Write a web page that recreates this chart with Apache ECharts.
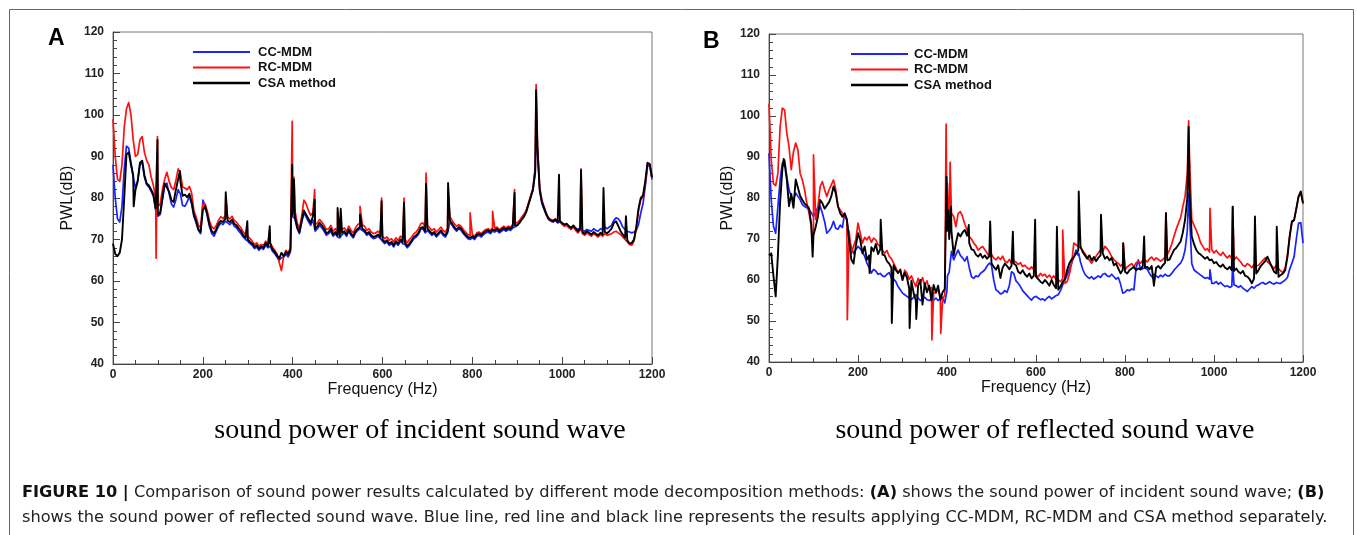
<!DOCTYPE html>
<html>
<head>
<meta charset="utf-8">
<script src="https://cdn.jsdelivr.net/npm/echarts@6/dist/echarts.min.js"></script>
<style>
html,body{margin:0;padding:0;background:#fff;}
#chart{width:1357px;height:535px;}
</style>
</head>
<body>
<div id="chart"></div>
<script>
// ---------------- DATA ----------------
const freqStepHz = 5;              // base arrays sampled every 5 Hz, 0..1200 Hz
const xTicks = [0, 200, 400, 600, 800, 1000, 1200];
const yTicks = [40, 50, 60, 70, 80, 90, 100, 110, 120];
const seriesNames = ['CC-MDM', 'RC-MDM', 'CSA method'];

// (A) incident sound wave
const incidentCC = [
88,80,75,74.2,78,87,92.5,92,88.6,85,82.4,84.2,88,88.6,85,83.2,82.6,81.6,80.4,77,
75.6,76,79.4,83,83.6,81,78.6,77.8,79.6,82,81,78.2,78,79,80.4,78.6,75.6,74,72.2,71.4,
79,78.2,75.6,73,71.4,70.8,72,73.2,74,73.6,74.4,74,73.6,74.2,73.2,72.8,72,71.4,70.6,70,
69.6,69,68.6,67.8,68.2,67.4,68,67.6,68.6,68,68.4,67.2,66.6,65.8,65,65.6,65.8,66.4,65.8,67,
75.5,75,72.6,71.4,74,76.4,75.4,74.4,73.4,74.8,72,72.6,73.4,72.8,72,71,71.4,72,70.8,71.4,
70.6,70.4,71.2,71.6,70.8,72,71,70.4,71.6,72.2,72.6,72.2,71.8,71,71.4,70.6,70.2,70.4,70.8,70.2,
69.6,69,69.4,68.6,69,68.2,69.2,68.6,69.6,69,68.8,68,68.6,69.4,70.2,70.6,71.2,72.4,72.6,71.6,
72.2,71.6,71,71.4,70.6,71.2,71.8,71,70.6,71.6,74.2,73.4,72.6,72,72.6,72.2,71.4,70.8,70.2,70,
70.4,70,70.8,71,70.6,71.2,71.6,71.8,71.4,72,71.8,72.2,71.6,72,72.4,72,72.4,72.2,72.8,73,
73.4,74.2,75.2,76,77,78.6,80.4,82,86,91,81.6,78.6,77.2,75.8,74.8,74.4,74.2,74.6,74,74.2,
73.8,73.4,73.6,73.2,72.8,73.2,72.8,72.4,72.8,72.2,72,72.4,72.2,72,72.6,72.2,72,72.6,72.4,73,
72.6,73,73.4,74.6,75.2,75,74.2,73,72.4,72,71.8,71.6,71.8,72.2,73.6,76.4,78.6,82.8,87.6,88,
84.4];
const incidentCCPeaks = [[200,79.5],[399,84],[942,99]];

const incidentRC = [
99,90,84.5,84,88,97,101.5,103,100,94,90,90.5,94,94.8,91,89,88,85,83,80,
78,78.5,82,84.5,86.2,84,82.5,82,84.2,87,86,82.6,82.4,82,82.8,81.2,77,75.5,73.5,72.8,
78.5,78.6,76.8,74.4,73,72.6,73.4,74.6,75.5,75,75.8,75.4,75,75.6,74.6,74.2,73.4,72.8,71.8,71.2,
70.8,70.2,69.6,68.8,69.2,68.4,68.8,68.6,69.6,68.8,69.2,68.2,67.4,66.6,64.5,62.5,66,67.4,66.8,68,
78,77,74,72.6,75.5,79.5,78.6,77,75.8,76.5,73.5,74,74.8,74.2,73.4,72.4,72.6,73.4,72,72.6,
71.8,71.6,72.4,72.8,72,73.2,72.2,71.6,72.8,73.6,74,73.6,73.2,72.2,72.6,71.8,71.4,71.6,72,71.4,
70.8,70.2,70.6,69.8,70.2,69.4,70.4,69.8,70.8,70.2,70,69.2,70,70.6,71.4,71.8,72.6,73.8,74,73,
73.4,72.8,72.2,72.6,71.8,72.4,73,72.2,71.8,72.8,75.5,74.6,73.8,73.2,73.6,73.2,72.4,71.8,71.2,71,
71.2,70.8,71.6,71.8,71.4,72,72.4,72.6,72.2,72.8,72.6,73,72.4,72.8,73.2,72.8,73.2,73,73.6,74,
74,74.6,75.4,76,77,78.8,80.6,82.4,87.5,93,82.5,79.4,77.8,76.2,75.2,74.8,74.6,75,74.4,74.6,
73.6,73.2,73.4,72.8,72.4,73,72.2,71.6,72.2,71.4,71,71.6,71.2,70.8,71.4,71,70.6,71.2,70.8,71.4,
71,71.2,71.4,71.8,72,71.6,71.2,70.6,70,69.4,68.8,68.6,69.6,72.6,77,79.6,80.2,83.6,88.2,88,
84.8];
const incidentRCPeaks = [[96,65.5],[99,94.8],[251,80],[299,73],[349,72],[399,98.5],[403,85],[449,82],[500,76.5],[550,78],[598,80],[648,80],[697,86],[746,82],[795,76.4],[845,76.8],[894,82],[942,107.3],[1042,87]];

const incidentCSA = [
69,66.5,66,66.8,70,80,90.5,91,88,85.5,82,84,88.5,89,85.5,83.5,83,82,80.8,77.5,
76,76.5,80,83.5,82.5,81.5,79.5,79,82,84.5,84,80.5,80.8,80.2,81,79,76,74.5,72.5,71.8,
77,78,76,73.5,72,71.5,72.5,73.8,74.5,74.2,75,74.6,74.2,74.8,73.8,73.4,72.6,72,71,70.4,
70,69.4,69,68.2,68.6,67.8,68.4,68,69.2,68.4,69,67.6,67,66.2,65.4,66.8,66,67,66.4,67.6,
76,75.5,73,71.8,74.5,77,76,75,74,75.5,72.5,73.2,74,73.4,72.6,71.5,71.8,72.6,71.2,71.8,
71,70.8,71.6,72,71.2,72.4,71.4,70.8,72,72.6,73,72.6,72.2,71.4,71.8,71,70.6,70.8,71.2,70.6,
70,69.4,69.8,69,69.4,68.6,69.6,69,70,69.4,69.2,68.4,69,69.8,70.6,71,71.6,72.8,73,72,
72.6,72,71.4,71.8,71,71.6,72.2,71.4,71,72,74.6,73.8,73,72.4,73,72.6,71.8,71.2,70.6,70.4,
70.8,70.4,71.2,71.4,71,71.6,72,72.2,71.8,72.4,72.2,72.6,72,72.4,72.8,72.4,72.8,72.6,73.2,73.4,
73.4,74,74.8,75.5,76.6,78.4,80.2,82,86.5,92,82,79,77.5,76,75,74.6,74.4,74.8,74.2,74.4,
74,73.6,73.8,73.2,72.8,73.4,72.6,72,72.6,71.8,71.4,72,71.6,71.2,71.8,71.4,71,71.6,71.2,71.8,
71.5,72,72.6,74,74.4,73.2,72,71.2,70.4,69.8,69,69.2,70,73,77.5,80,80.6,84,88.5,88.2,
85];
const incidentCSAPeaks = [[46,78],[99,94],[149,86.5],[251,81.4],[299,74.4],[349,73.2],[399,88],[403,84.4],[449,79.6],[500,77.6],[507,77.4],[550,76],[598,79.2],[648,78.8],[697,83.4],[746,83.6],[894,81.2],[942,106],[993,85.6],[1042,86.7],[1092,82.4],[1142,75.6]];

// (B) reflected sound wave
const reflectedCC = [
90.9,79.5,73.1,71.4,77.9,84.4,88.5,89.3,85.2,82,80.4,79.5,81.2,80.4,79.6,78.4,77.9,77.6,77.1,76.4,
75.5,76.6,77.8,78,76.3,74.2,71.4,72,72.8,74.3,72.6,72.4,73.4,72.8,76.3,74.8,70,68,66.5,67.4,
68.2,67.6,66.8,65.8,64.1,63,61.7,62.6,62.2,61.4,61.6,61,60.8,61.4,61.8,60.6,60.2,59.6,58.4,57.6,
56.8,56.4,56,55.6,55.2,55.8,56.4,55.6,55,55.4,55.8,55.2,55,55.4,55,55.6,55,55.4,55.8,54.4,
57.5,62,67,64.9,66.2,67.3,66,65.4,64.6,65.7,63,60.8,60.4,61,60.8,61.6,62,62.5,63.4,64.1,
63.6,60,57.6,57.2,56.6,56.8,57.4,57,58.6,62,61.6,59.8,59.2,58.4,57.4,56.8,56.2,55.6,55.1,55.8,
56,55.6,55.2,55.4,55,55.6,56,55.4,55.8,56.2,56.4,57.4,58.8,60,61.2,62.6,64.1,65.6,67.3,66,
64.4,62.6,61.4,60.8,60.4,60.8,60.2,60.6,61,60.6,61.4,61.6,61,60.8,61.4,60.8,60.2,60.6,59,56.8,
57,57.6,57.4,57.8,57.6,63,64.9,62.5,62.8,63,62.6,61.6,60.8,61.4,61,60.6,61.2,60.8,61.4,61,
61,61.6,62.4,63,63.6,64.1,65.2,67.3,72,76,64,62.5,62,61.6,61.2,60.8,60.4,60.6,60.2,59.2,
59.2,59.6,59,59.4,58.8,58.4,58.6,58.2,58.4,58.8,58.6,58.2,58.6,58,57.6,57.2,57.8,58.4,58,58.6,
58.8,59.2,59.4,59,59.2,59.6,59.2,59,59.4,59.2,59.2,59.6,60,60.6,62.6,64.1,65.7,70,73.8,74,
69];
const reflectedCCPeaks = [[401,61],[696,66.5],[943,81.2],[991,62.5],[1042,64]];

const reflectedRC = [
103,89.3,83.5,83,86,97.4,101.9,101.5,95.8,92.5,86.9,91.3,93.4,91.7,86,84.4,82,78.7,76.3,73,
72,74.7,77.9,82.8,84,82,80.4,82,83.2,84.4,82,77.9,77.1,76.3,75.5,74.7,72,66.5,68.2,69.8,
73.9,71.4,69,70.4,69.8,70.6,69.2,70.2,69.8,68.6,68.2,67.2,66.5,67.2,65.8,65.2,64.1,63,61.7,62.6,
60,62.4,61.7,60.2,61,59.6,58.4,60.4,59.2,60.6,58.6,59.8,57.6,58.2,57,56.8,57.8,56,55.2,56.4,
72,71.4,76.3,75.5,73,76.2,76.7,75.5,73.6,72.2,70.6,70,69,68.4,67.3,67.8,68.2,67.4,66.6,65.7,
66.2,65.4,64.9,65.6,65,65.8,64.6,64.2,65,64.1,64.6,64.4,63.8,64.2,63.3,63.6,63,62.6,63.2,62.5,
61.2,60.8,61.6,61,61.4,60.6,61.2,60.4,61,60.2,60,59.6,60.4,59.2,59.6,61.4,64,69,68.6,68.2,
67.8,67.2,66.4,65.6,64.8,64.1,65,65.8,66.6,67.3,67,68.2,67.6,66.8,65.7,65,64.4,64.1,63.4,64,
62.5,63.2,63.6,64,63.2,64.2,64.6,64.1,64.8,64.9,64.4,65.2,65.6,64.8,65.4,65,64.6,65,65.6,66.2,
67.3,68.8,70.6,72.4,73.8,75.2,77.9,80.4,86,90,74.7,73.4,72.2,70.8,69,68.2,67.3,67.6,66.8,67.4,
66.6,67.2,66.5,66,66.8,66,65.4,66,65.2,64.8,65.6,65,64.4,63.6,63.3,64,63.6,63,63.8,63.4,
63.6,64.2,64.8,65.4,64.4,64,63.4,62.8,63.6,62.8,62.2,61.8,63,66,70.6,74,74.6,77.4,80.2,81.4,
78.5];
const reflectedRCPeaks = [[97,70.2],[100,90.5],[176,50.3],[366,45.4],[386,47],[398,98],[401,83.6],[407,88.7],[660,72.2],[796,69],[892,76.4],[943,98.8],[991,77.5],[1042,77.9]];

const reflectedCSA = [
66,66.5,61,56,66,79,87,88.5,84.5,78,81,77.6,84.5,82.5,80.5,79.5,78.6,78.2,77.5,73.5,
71,73,75.5,79.5,78.7,77.4,78.2,79,80.4,82.8,81.2,78,76.3,75.4,76.2,74.7,69.8,65,64,68.2,
71.4,69.8,66.5,68.2,64.9,66,68,67,68.8,66.3,67.5,66.2,66,64.6,64,63,63.6,62.4,61.7,62.5,
60,61.8,60.6,58,59.8,56.8,55,58.6,60,54,59.2,57,58.6,55,58.8,57,58.6,55.2,57,57.8,
72,70,72,66,69,71.4,70.6,71.6,72.2,70.8,69,67.5,67.3,66.2,65.7,66.4,65.4,66,65.2,65.8,
64.1,63.2,62.5,63.6,60.5,63,64,63.4,62.6,63.5,64,63.6,62,61.6,62.4,61.4,60.8,61.6,60.4,61,
60.8,60.2,59.6,59.2,60,59.4,58.6,60,58.8,58,57.6,58.4,59.6,60.2,62.4,64.1,65,65.6,66.4,67.2,
68.2,66.8,66,65.2,66,64.8,65.6,64.6,65.4,66,66.5,65.2,65.7,64.8,65.4,63.6,64,62.8,61.6,62.5,
62,61.6,62.4,62.8,63.2,62.4,62.8,62.6,63.4,63,63.2,62.6,63.4,58.6,63,63.4,62.8,63.6,64.2,64.8,
65,66.2,67.3,67.8,68.6,69.4,71.6,74.7,80,82,70.6,68.8,67.4,66.6,66.2,65.7,65.2,65.6,64.8,65,
64.1,64.4,63.6,63.2,63.8,63,62.6,63.2,62.4,62.2,62.8,62,61.6,62.2,61,60.8,60.2,59.2,60.4,61.6,
62.4,63.4,64,64.6,65.7,64.4,63.2,62,61.6,60.8,61.2,61.6,62.4,65.6,70.6,74.3,74.6,77.4,80.4,81.6,
78.8];
const reflectedCSAPeaks = [[33,89.5],[98,65.7],[226,61.7],[251,74.7],[276,49.5],[316,48.3],[331,50.5],[399,85.2],[403,77],[409,77.9],[449,73.4],[497,74.3],[548,71.8],[598,74.7],[647,73],[696,81.6],[746,75.9],[796,69],[843,70.6],[892,76.3],[943,97.4],[1042,77.9],[1092,75.5],[1141,73]];

const panelTitles = ['sound power of incident sound wave', 'sound power of reflected sound wave'];
const panelLetters = ['A', 'B'];
const captionLine1 = '{b|FIGURE 10 |} Comparison of sound power results calculated by different mode decomposition methods: {b|(A)} shows the sound power of incident sound wave; {b|(B)}';
const captionLine2 = 'shows the sound power of reflected sound wave. Blue line, red line and black line represents the results applying CC-MDM, RC-MDM and CSA method separately.';

// ---------------- BUILD ----------------
function toPoints(base, peaks) {
  const pts = base.map((v, i) => [i * freqStepHz, v]);
  peaks.forEach(p => pts.push([p[0], p[1]]));
  pts.sort((a, b) => a[0] - b[0]);
  return pts;
}

const colors = ['#1a22ff', '#ff1010', '#000000'];
const widths = [1.7, 1.7, 1.9];
const panels = [
  [[incidentCC, incidentCCPeaks], [incidentRC, incidentRCPeaks], [incidentCSA, incidentCSAPeaks]],
  [[reflectedCC, reflectedCCPeaks], [reflectedRC, reflectedRCPeaks], [reflectedCSA, reflectedCSAPeaks]]
];

const grids = [
  {left: 113, top: 32, width: 539, height: 332},
  {left: 769, top: 34, width: 534, height: 328}
];

const series = [];
panels.forEach((p, gi) => {
  p.forEach((d, si) => {
    series.push({
      type: 'line', name: seriesNames[si], xAxisIndex: gi, yAxisIndex: gi,
      data: toPoints(d[0], d[1]), showSymbol: false, symbol: 'none',
      lineStyle: {color: colors[si], width: widths[si], join: 'round'}, itemStyle: {color: colors[si]},
      sampling: null, clip: true, z: 2 + si, silent: true
    });
  });
});

const axisColor = '#444';
const xAxes = grids.map((g, i) => ({
  gridIndex: i, type: 'value', min: xTicks[0], max: xTicks[xTicks.length - 1], interval: xTicks[1] - xTicks[0],
  name: 'Frequency (Hz)', nameLocation: 'middle', nameGap: 18, nameMoveOverlap: false,
  nameTextStyle: {fontSize: 16, color: '#111', fontFamily: 'Liberation Sans'},
  axisLine: {show: true, lineStyle: {color: axisColor, width: 1}},
  axisTick: {show: true, inside: true, length: 7, lineStyle: {color: axisColor}},
  minorTick: {show: true, splitNumber: 4, length: 4, lineStyle: {color: axisColor}},
  axisLabel: {fontSize: 12, fontWeight: 'bold', color: '#222', margin: 5, fontFamily: 'Liberation Sans', formatter: v => String(v)},
  splitLine: {show: false}
}));
const yAxes = grids.map((g, i) => ({
  gridIndex: i, type: 'value', min: yTicks[0], max: yTicks[yTicks.length - 1], interval: yTicks[1] - yTicks[0],
  name: 'PWL(dB)', nameLocation: 'middle', nameGap: i === 0 ? 37 : 33, nameRotate: 90,
  nameTextStyle: {fontSize: 16, color: '#111', fontFamily: 'Liberation Sans'},
  axisLine: {show: true, lineStyle: {color: axisColor, width: 1}},
  axisTick: {show: true, inside: true, length: 7, lineStyle: {color: axisColor}},
  minorTick: {show: true, splitNumber: 5, length: 4, lineStyle: {color: axisColor}},
  axisLabel: {fontSize: 12, fontWeight: 'bold', color: '#222', margin: 9, fontFamily: 'Liberation Sans', formatter: v => String(v)},
  splitLine: {show: false}
}));

// legends (drawn as graphic so positions match)
const legendPos = [{x: 193, y: 52, tx: 258}, {x: 851, y: 54, tx: 914}];
const graphics = [];
graphics.push({type: 'rect', shape: {x: 9.5, y: 9.5, width: 1344, height: 700}, style: {fill: 'none', stroke: '#666', lineWidth: 1}, silent: true, z: 0});
legendPos.forEach((lp, gi) => {
  seriesNames.forEach((n, si) => {
    const y = lp.y + si * 15.5;
    graphics.push({type: 'line', shape: {x1: lp.x, y1: y, x2: lp.x + 57, y2: y}, style: {stroke: colors[si], lineWidth: si === 2 ? 2.4 : 1.8}, z: 10});
    graphics.push({type: 'text', x: lp.tx, y: y, style: {text: n, fill: '#111', font: 'bold 13px "Liberation Sans"', textVerticalAlign: 'middle', verticalAlign: 'middle'}, z: 10});
  });
});
const letterPos = [{x: 48, y: 39}, {x: 703, y: 42}];
panelLetters.forEach((l, i) => {
  graphics.push({type: 'text', x: letterPos[i].x, y: letterPos[i].y, style: {text: l, fill: '#000', font: 'bold 23px "Liberation Sans"', verticalAlign: 'middle', textVerticalAlign: 'middle'}, z: 10});
});
const titlePos = [{x: 420, y: 431}, {x: 1045, y: 431}];
panelTitles.forEach((t, i) => {
  graphics.push({type: 'text', x: titlePos[i].x, y: titlePos[i].y, style: {text: t, fill: '#000', font: '28px "Liberation Serif"', align: 'center', textAlign: 'center', verticalAlign: 'middle', textVerticalAlign: 'middle'}, z: 10});
});
const capSize = 16.2;
const capFont = capSize + 'px "DejaVu Sans"';
graphics.push({type: 'text', x: 22, y: 493, style: {text: captionLine1, fill: '#222', font: capFont, verticalAlign: 'middle', textVerticalAlign: 'middle',
  rich: {b: {fontWeight: 'bold', fontSize: capSize, fontFamily: 'DejaVu Sans', fill: '#111'}}}, z: 10});
graphics.push({type: 'text', x: 22, y: 518, style: {text: captionLine2, fill: '#222', font: capFont, verticalAlign: 'middle', textVerticalAlign: 'middle'}, z: 10});

const chart = echarts.init(document.getElementById('chart'), null, {renderer: 'canvas', width: 1357, height: 535});
chart.setOption({
  backgroundColor: '#ffffff',
  animation: false,
  grid: grids.map(g => Object.assign({show: true, borderColor: '#777', borderWidth: 1, backgroundColor: 'transparent', containLabel: false}, g)),
  xAxis: xAxes,
  yAxis: yAxes,
  series: series,
  graphic: graphics
});
</script>
</body>
</html>
